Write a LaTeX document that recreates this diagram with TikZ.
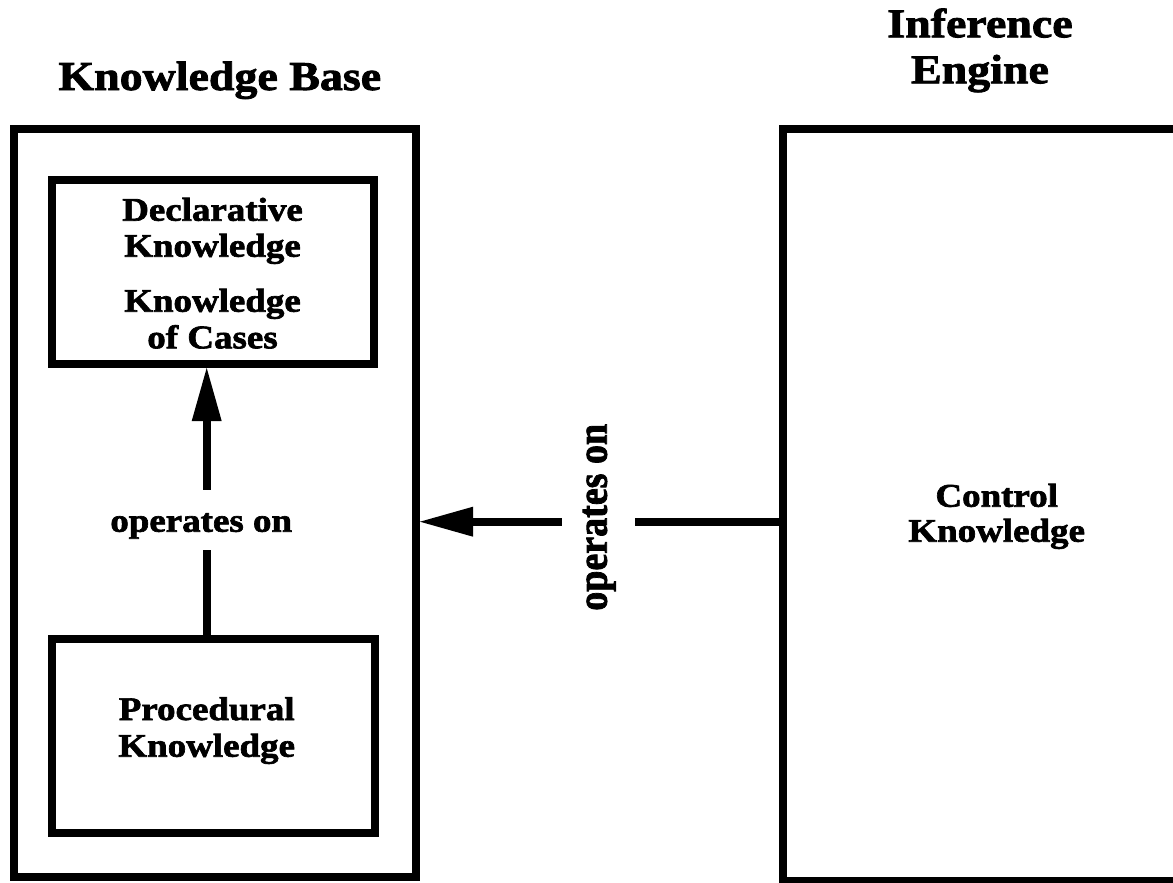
\documentclass[tikz,border=0pt]{standalone}
\usepackage{fontspec}
\usepackage{graphicx}
\setmainfont{Liberation Serif}[FakeStretch=1.12, BoldFeatures={FakeBold=2}]
\newfontfamily\upserif{Liberation Serif}[BoldFeatures={FakeBold=2}]
\usetikzlibrary{arrows.meta}

\tikzset{
  heavy/.style={line width=8pt},
  box/.style={draw, heavy, rectangle, inner sep=0pt},
  title/.style={font=\bfseries\fontsize{41}{46}\selectfont, align=center, anchor=base, inner sep=0pt},
  label/.style={font=\bfseries\fontsize{33}{36}\selectfont, align=center, anchor=base, inner sep=0pt},
  linklabel/.style={font=\bfseries\fontsize{33}{36}\selectfont, anchor=base, inner sep=0pt},
  sidelabel/.style={font=\upserif\bfseries\fontsize{38}{40}\selectfont, rotate=90, anchor=base, inner sep=0pt},
  link/.style={heavy, line cap=butt},
  linkarrow/.style={link, -{Triangle[length=53pt,width=30pt,line width=0pt]}},
}

\begin{document}
\begin{tikzpicture}[x=1pt,y=-1pt]
  \useasboundingbox (0,0) rectangle (1173,883);
  \fill[white] (0,0) rectangle (1173,883);
  \clip (0,0) rectangle (1173,883);

  % frames
  \node[box, minimum width=402pt, minimum height=748.5pt] (kb) at (215,502.75) {};
  \node[box, minimum width=322pt, minimum height=184.5pt] (dec) at (213,271.75) {};
  \node[box, minimum width=322.5pt, minimum height=193.5pt] (proc) at (213.25,735.75) {};
  \node[box, minimum width=600pt, minimum height=752.5pt] (ie) at (1082.5,504.75) {};

  % headings
  \node[title] (kbt) at (219.8,90) {Knowledge Base};
  \node[title] (iet) at (980,83.3) {Inference\\Engine};

  % contents
  \node[label] (decl) at (212.5,256.7) {Declarative\\Knowledge};
  \node[label, font=\bfseries\fontsize{33}{36.6}\selectfont] (cases) at (212.5,348.3) {Knowledge\\of Cases};
  \node[label, font=\bfseries\fontsize{33}{36.7}\selectfont] (proct) at (206.7,756.7) {Procedural\\Knowledge};
  \node[label, font=\bfseries\fontsize{33}{35}\selectfont] (ctrl) at (996.7,541.7) {Control\\Knowledge};

  % procedural -> declarative
  \coordinate (shaft) at (206.7,0);
  \node[linklabel, text height=41.7pt, text depth=18.3pt] (op1) at (201.2,531.7) {operates on};
  \draw[link] (shaft |- proc.north) -- (shaft |- op1.south);
  \draw[linkarrow] (shaft |- op1.north) -- (shaft |- dec.south);

  % inference engine -> knowledge base
  \coordinate (lvl) at (0,521.7);
  \node[sidelabel, text height=44.7pt, text depth=28.3pt] (op2) at (606.7,517.3) {\scalebox{1}[1.12]{operates on}};
  \draw[link] (ie.west |- lvl) -- (op2.south |- lvl);
  \draw[linkarrow] (op2.north |- lvl) -- (kb.east |- lvl);
\end{tikzpicture}
\end{document}
